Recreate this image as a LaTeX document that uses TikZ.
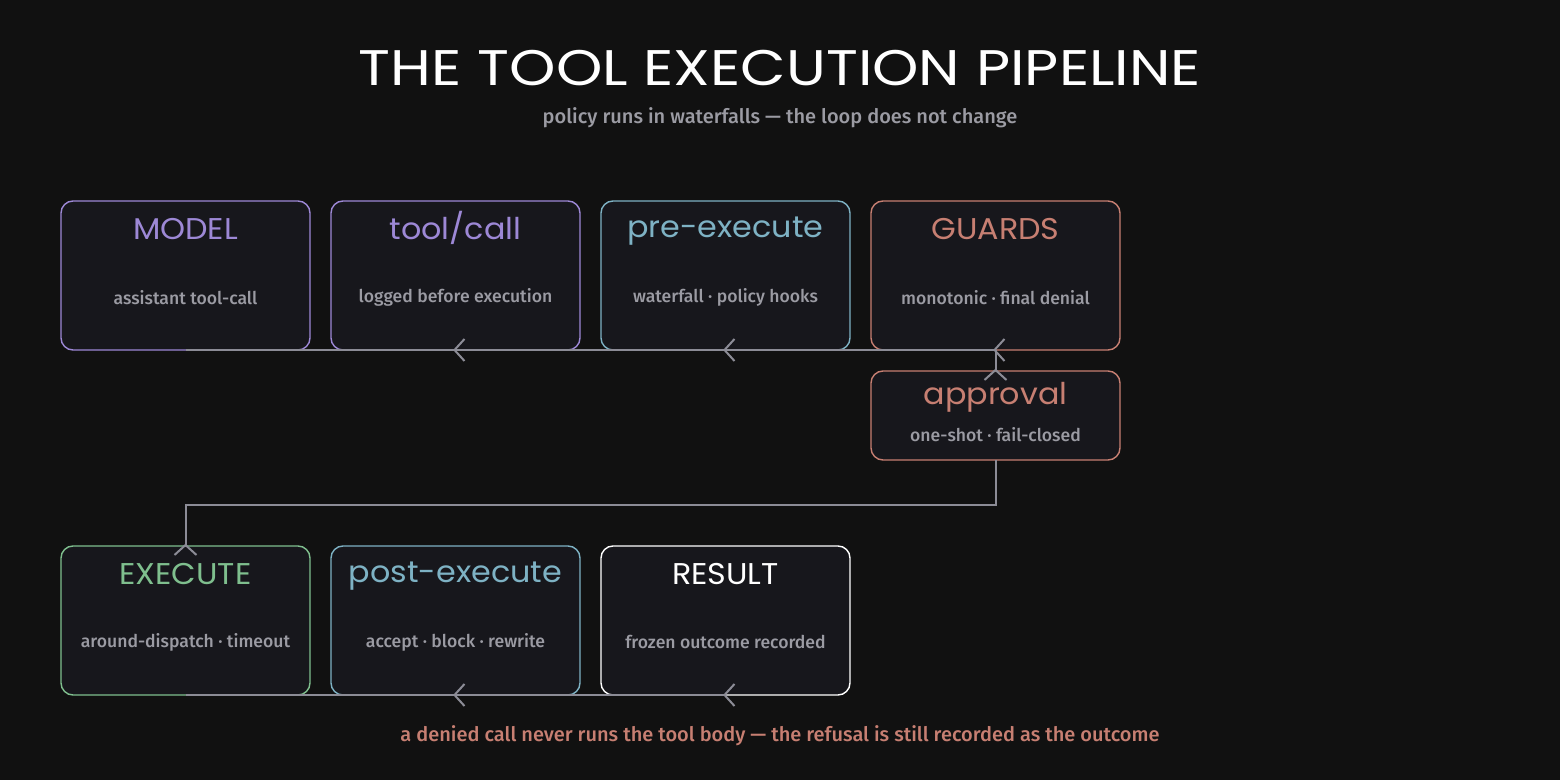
\documentclass[tikz,border=0pt]{standalone}
\usepackage{fontspec}
\setmainfont{Fira Sans}[UprightFont={* Medium}]
\newfontfamily\headfont{Poppins}[FakeStretch=1.06]
\newfontfamily\titlefont{Poppins}[FakeStretch=1.18]
\usetikzlibrary{arrows.meta}
\definecolor{bgdark}{HTML}{111111}
\definecolor{boxfill}{HTML}{17171C}
\definecolor{stagepurple}{HTML}{9D88D6}
\definecolor{stageteal}{HTML}{7EB2C4}
\definecolor{stagesalmon}{HTML}{C77F72}
\definecolor{stagegreen}{HTML}{7FBF8E}
\definecolor{notegrey}{HTML}{9B9BA3}
\definecolor{wiregrey}{HTML}{8C8C96}
\tikzset{
  stage/.style={draw=#1, fill=boxfill, line width=0.7pt, rounded corners=6pt,
    minimum width=124.5pt, minimum height=74.5pt, inner sep=0pt, outer sep=0pt},
  gate/.style={stage=#1, minimum height=44.5pt},
  stagename/.style={text=#1, font=\headfont\fontsize{15}{15}\selectfont, anchor=base},
  stagenote/.style={text=notegrey, font=\fontsize{8.8}{9}\selectfont, anchor=base},
  flow/.style={draw=wiregrey, line width=1pt, shorten >=-5pt,
    -{Straight Barb[reversed, length=5pt, width=11pt]}}
}
\begin{document}
\begin{tikzpicture}[x=0.5pt, y=-0.5pt]
    \fill[bgdark] (0,0) rectangle (1560,780);
    % heading
    \node (title) [text=white, font=\titlefont\fontsize{25}{25}\selectfont, anchor=base] at (780,86) {THE TOOL EXECUTION PIPELINE};
    \node (subtitle) [stagenote, font=\fontsize{10}{10}\selectfont] at (780,124) {policy runs in waterfalls — the loop does not change};
    % top row
    \node (model) [stage=stagepurple] at (185.5,275.5) {};
    \node (toolcall) [stage=stagepurple] at (455.5,275.5) {};
    \node (preexec) [stage=stageteal] at (725.5,275.5) {};
    \node (guards) [stage=stagesalmon] at (995.5,275.5) {};
    \node (approval) [gate=stagesalmon] at (995.5,415.5) {};
    % bottom row
    \node (execute) [stage=stagegreen] at (185.5,620.5) {};
    \node (postexec) [stage=stageteal] at (455.5,620.5) {};
    \node (result) [stage=white] at (725.5,620.5) {};
    % names and notes
    \node (model-name) [stagename=stagepurple] at (185.5,240) {MODEL};
    \node (model-note) [stagenote] at (185.5,305) {assistant tool-call};
    \node (toolcall-name) [stagename=stagepurple] at (455.5,240) {tool/call};
    \node (toolcall-note) [stagenote] at (455.5,303) {logged before execution};
    \node (preexec-name) [stagename=stageteal] at (725.5,238) {pre-execute};
    \node (preexec-note) [stagenote] at (725.5,303) {waterfall · policy hooks};
    \node (guards-name) [stagename=stagesalmon] at (995.5,240) {GUARDS};
    \node (guards-note) [stagenote] at (995.5,305) {monotonic · final denial};
    \node (approval-name) [stagename=stagesalmon] at (995.5,405) {approval};
    \node (approval-note) [stagenote] at (995.5,442) {one-shot · fail-closed};
    \node (execute-name) [stagename=stagegreen] at (185.5,585) {EXECUTE};
    \node (execute-note) [stagenote] at (185.5,648) {around-dispatch · timeout};
    \node (postexec-name) [stagename=stageteal] at (455.5,583) {post-execute};
    \node (postexec-note) [stagenote] at (455.5,648) {accept · block · rewrite};
    \node (result-name) [stagename=white] at (725.5,585) {RESULT};
    \node (result-note) [stagenote] at (725.5,649) {frozen outcome recorded};
    % wiring
    \draw[flow] (model.south) -- (toolcall.south);
    \draw[flow] (toolcall.south) -- (preexec.south);
    \draw[flow] (preexec.south) -- (guards.south);
    \draw[flow] (guards.south) -- (approval.north);
    \draw[flow] (approval.south) -- ++(0,45) -| (execute.north);
    \draw[flow] (execute.south) -- (postexec.south);
    \draw[flow] (postexec.south) -- (result.south);
    \node (footer) [text=stagesalmon, font=\fontsize{10}{10}\selectfont, anchor=base] at (780,741) {a denied call never runs the tool body — the refusal is still recorded as the outcome};
\end{tikzpicture}
\end{document}
